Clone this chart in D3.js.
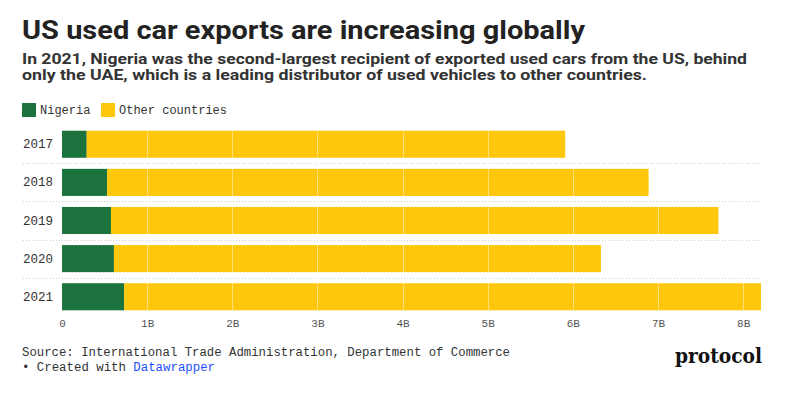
<!DOCTYPE html>
<html>
<head>
<meta charset="utf-8">
<script src="https://cdn.jsdelivr.net/npm/d3@7"></script>
<style>
  html, body { margin: 0; padding: 0; background: #fff; }
  svg { display: block; }
</style>
</head>
<body>
<svg id="chart" width="803" height="410"></svg>
<script>
const years = ["2017", "2018", "2019", "2020", "2021"];
const nigeria = [0.29, 0.53, 0.575, 0.61, 0.73];
const totals = [5.91, 6.89, 7.71, 6.33, 8.21];
const otherCountries = totals.map((t, i) => +(t - nigeria[i]).toFixed(3));
const seriesNames = ["Nigeria", "Other countries"];
const seriesColors = ["#1c733d", "#fdc70c"];
const tickValues = [0, 1, 2, 3, 4, 5, 6, 7, 8];
const tickLabels = ["0", "1B", "2B", "3B", "4B", "5B", "6B", "7B", "8B"];

const svg = d3.select("#chart");
const mono = "'Liberation Mono', 'DejaVu Sans Mono', monospace";
const sans = "Roboto, 'Noto Sans', sans-serif";

// Title & subtitle
svg.append("text").attr("x", 22).attr("y", 39)
  .attr("font-family", sans).attr("font-weight", 700).attr("font-size", 26)
  .attr("fill", "#222").attr("textLength", 563).attr("lengthAdjust", "spacingAndGlyphs")
  .text("US used car exports are increasing globally");
svg.append("text").attr("x", 22).attr("y", 64)
  .attr("font-family", sans).attr("font-weight", 700).attr("font-size", 14.5)
  .attr("fill", "#333").attr("textLength", 725).attr("lengthAdjust", "spacingAndGlyphs")
  .text("In 2021, Nigeria was the second-largest recipient of exported used cars from the US, behind");
svg.append("text").attr("x", 22).attr("y", 80)
  .attr("font-family", sans).attr("font-weight", 700).attr("font-size", 14.5)
  .attr("fill", "#333").attr("textLength", 625).attr("lengthAdjust", "spacingAndGlyphs")
  .text("only the UAE, which is a leading distributor of used vehicles to other countries.");

// Legend
const legendX = [22, 101];
seriesNames.forEach((name, i) => {
  svg.append("rect").attr("x", legendX[i]).attr("y", 103).attr("width", 14).attr("height", 14)
    .attr("fill", seriesColors[i]);
  svg.append("text").attr("x", legendX[i] + 18).attr("y", 114)
    .attr("font-family", mono).attr("font-size", 12).attr("fill", "#333").text(name);
});

// Scales
const x = d3.scaleLinear().domain([0, d3.max(totals)]).range([62, 761]);
const y = d3.scaleBand().domain(years).range([125, 316]).paddingInner(0.29).paddingOuter(0.15);

// Separators (dotted)
years.slice(0, -1).forEach((yr) => {
  const yy = Math.round(y(yr) + y.bandwidth() + (y.step() - y.bandwidth()) / 2) + 0.5;
  svg.append("line").attr("x1", 23).attr("x2", 761).attr("y1", yy).attr("y2", yy)
    .attr("stroke", "#cfcfcf").attr("stroke-width", 1).attr("stroke-dasharray", "1,2");
});

// Year labels
svg.append("g").selectAll("text").data(years).join("text")
  .attr("x", 23).attr("y", d => y(d) + y.bandwidth() / 2 + 4)
  .attr("font-family", mono).attr("font-size", 12.5).attr("fill", "#333").text(d => d);

// Stacked bars
const rows = years.map((yr, i) => ({ year: yr, Nigeria: nigeria[i], "Other countries": otherCountries[i] }));
const stack = d3.stack().keys(seriesNames)(rows);
svg.append("g").selectAll("g").data(stack).join("g")
  .attr("fill", (d, i) => seriesColors[i])
  .selectAll("rect").data(d => d).join("rect")
  .attr("x", d => x(d[0])).attr("width", d => x(d[1]) - x(d[0]))
  .attr("y", d => y(d.data.year)).attr("height", y.bandwidth());

// Gridlines over bars (only visible on bars)
svg.append("g").selectAll("line").data(tickValues.slice(1)).join("line")
  .attr("x1", d => Math.round(x(d)) + 0.5).attr("x2", d => Math.round(x(d)) + 0.5)
  .attr("y1", y(years[0])).attr("y2", y(years[years.length - 1]) + y.bandwidth())
  .attr("stroke", "#fff").attr("stroke-opacity", 0.45).attr("stroke-width", 1);

// X axis
const axis = d3.axisBottom(x).tickValues(tickValues).tickFormat((d, i) => tickLabels[i]).tickSize(0);
const gx = svg.append("g").attr("transform", "translate(0,316)").call(axis);
gx.select(".domain").remove();
gx.selectAll("text").attr("font-family", mono).attr("font-size", 11).attr("fill", "#555").attr("dy", "0.71em");

// Footer
svg.append("text").attr("x", 22).attr("y", 356)
  .attr("font-family", mono).attr("font-size", 12).attr("fill", "#333")
  .attr("textLength", 488).attr("lengthAdjust", "spacingAndGlyphs")
  .text("Source: International Trade Administration, Department of Commerce");
const t2 = svg.append("text").attr("x", 22).attr("y", 371)
  .attr("font-family", mono).attr("font-size", 12).attr("fill", "#333")
  .attr("textLength", 193).attr("lengthAdjust", "spacingAndGlyphs");
t2.append("tspan").text("• Created with ");
t2.append("tspan").attr("fill", "#1d4fff").text("Datawrapper");

// Logo
svg.append("text").attr("x", 675).attr("y", 363)
  .attr("font-family", "'DejaVu Serif', serif").attr("font-weight", 700).attr("font-size", 20)
  .attr("fill", "#111").attr("textLength", 87).attr("lengthAdjust", "spacingAndGlyphs")
  .text("protocol");
</script>
</body>
</html>
